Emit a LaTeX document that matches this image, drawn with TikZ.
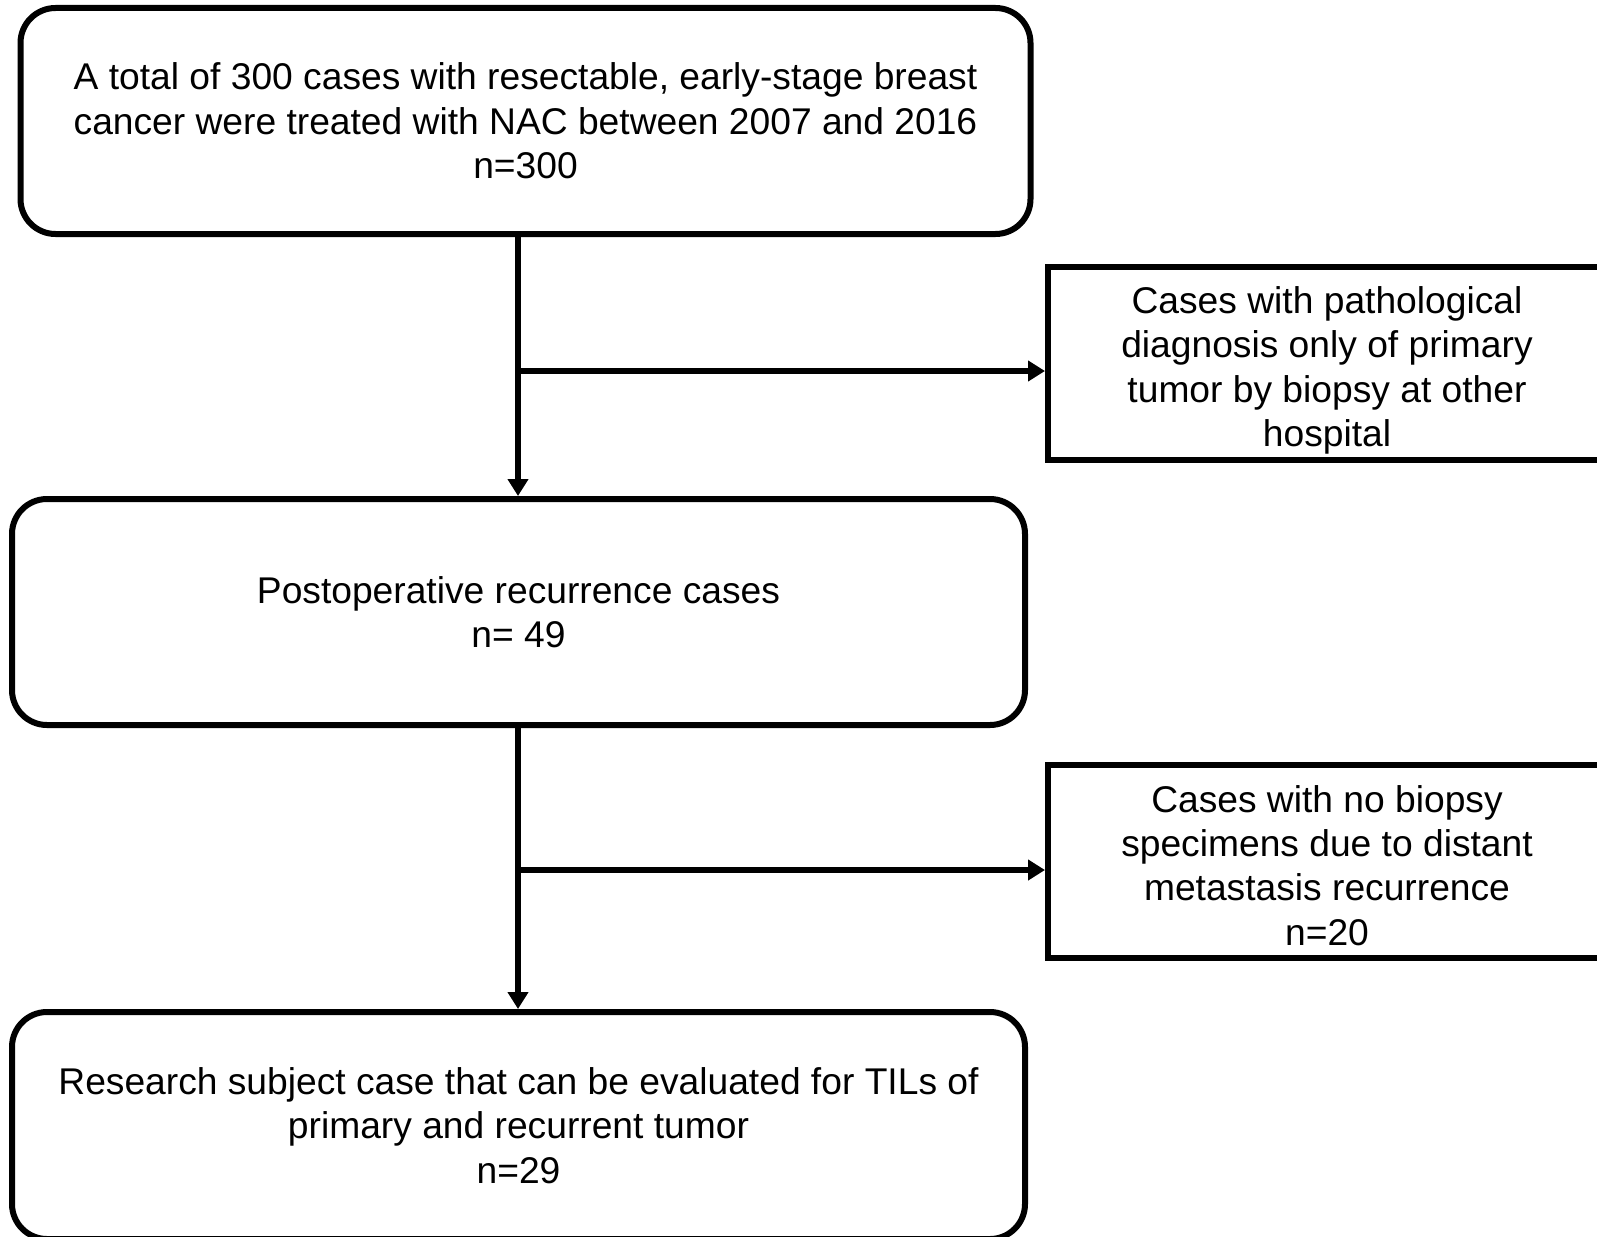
\documentclass[tikz,border=0pt]{standalone}
\usepackage{fontspec}
\setmainfont{Liberation Sans}
\usetikzlibrary{arrows.meta}
\begin{document}
\begin{tikzpicture}[x=1pt,y=-1pt,
  txt/.style={align=center, font=\fontsize{37.2}{44.3}\selectfont, inner sep=0pt},
  rbox/.style={txt, draw, line width=6pt, rounded corners=35pt},
  sbox/.style={draw, line width=6pt, inner sep=0pt},
  conn/.style={line width=6pt, -{Triangle[length=17pt,width=20pt]}}]
\useasboundingbox (0,0) rectangle (1597,1236);
\begin{scope}
\clip (0,0) rectangle (1597,1236);
\node[rbox, minimum width=1010pt, minimum height=226pt] (b1) at (525.5,121)
  {A total of 300 cases with resectable, early-stage breast\\cancer were treated with NAC between 2007 and 2016\\n=300};
\node[sbox, minimum width=562pt, minimum height=193pt,
  label={[txt, xshift=-2pt, yshift=-7pt]center:Cases with pathological\\diagnosis only of primary\\tumor by biopsy at other\\hospital}] (b2) at (1329,363.5) {};
\node[rbox, minimum width=1013pt, minimum height=226pt] (b3) at (518.5,612)
  {Postoperative recurrence cases\\n= 49};
\node[sbox, minimum width=562pt, minimum height=193pt,
  label={[txt, xshift=-2pt, yshift=-4pt]center:Cases with no biopsy\\specimens due to distant\\metastasis recurrence\\n=20}] (b4) at (1329,861.5) {};
\node[rbox, minimum width=1013pt, minimum height=227pt] (b5) at (518.5,1125.5)
  {Research subject case that can be evaluated for TILs of\\primary and recurrent tumor\\n=29};
\coordinate (j1) at (518,371);
\coordinate (j2) at (518,870);
\draw[conn] (b1.south -| j1) -- (b3.north -| j1);
\draw[conn] (j1) -- (j1 -| b2.west);
\draw[conn] (b3.south -| j2) -- (b5.north -| j2);
\draw[conn] (j2) -- (j2 -| b4.west);
\end{scope}
\end{tikzpicture}
\end{document}
